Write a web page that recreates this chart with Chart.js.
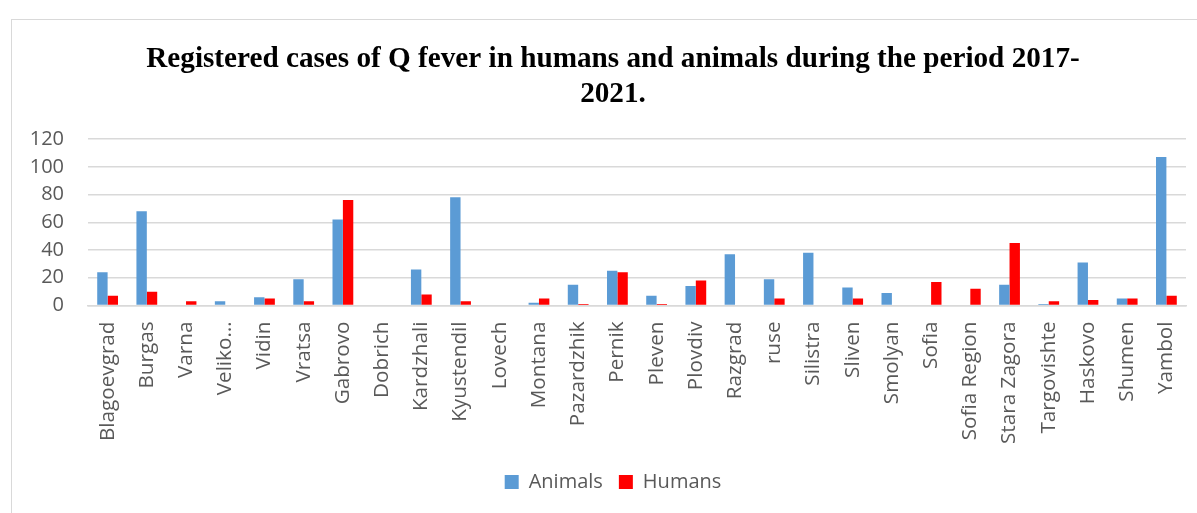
<!DOCTYPE html>
<html>
<head>
<meta charset="utf-8">
<script src="https://cdn.jsdelivr.net/npm/chart.js@4.4.0/dist/chart.umd.min.js"></script>
<style>
  html, body { margin: 0; padding: 0; background: #ffffff; overflow: hidden; width: 1197px; height: 513px; }
  #frame { position: absolute; left: 11px; top: 19px; width: 1202px; height: 520px; border: 1px solid #d9d9d9; }
  #chart { display: block; }
</style>
</head>
<body>
<div id="frame"><canvas id="chart" width="1202" height="493"></canvas></div>
<script>
// Regions of Bulgaria
const regions = [
  'Blagoevgrad', 'Burgas', 'Varna', 'Veliko…', 'Vidin', 'Vratsa', 'Gabrovo', 'Dobrich',
  'Kardzhali', 'Kyustendil', 'Lovech', 'Montana', 'Pazardzhik', 'Pernik', 'Pleven',
  'Plovdiv', 'Razgrad', 'ruse', 'Silistra', 'Sliven', 'Smolyan', 'Sofia', 'Sofia Region',
  'Stara Zagora', 'Targovishte', 'Haskovo', 'Shumen', 'Yambol'
];

// Registered Q fever cases, 2017-2021
const animalCases = [24, 68, 0, 3, 6, 19, 62, 0, 26, 78, 0, 2, 15, 25, 7, 14, 37, 19, 38, 13, 9, 0, 0, 15, 1, 31, 5, 107];
const humanCases  = [7, 10, 3, 0, 5, 3, 76, 0, 8, 3, 0, 5, 1, 24, 1, 18, 0, 5, 0, 5, 0, 17, 12, 45, 3, 4, 5, 7];

const yTicks = [0, 20, 40, 60, 80, 100, 120];

const titleLines = [
  'Registered cases of Q fever in humans and animals during the period 2017-',
  '2021.'
];

const textGrey = '#595959';
const gridGrey = '#d9d9d9';
const labelFont = { family: "'Open Sans', sans-serif", size: 20 };
const categoryFont = { family: "'Open Sans', sans-serif", size: 20.7 };

new Chart(document.getElementById('chart'), {
  type: 'bar',
  data: {
    labels: regions,
    datasets: [
      { label: 'Animals', data: animalCases, backgroundColor: '#5b9bd5', borderWidth: 0,
        categoryPercentage: 0.53, barPercentage: 1.0 },
      { label: 'Humans', data: humanCases, backgroundColor: '#ff0000', borderWidth: 0,
        categoryPercentage: 0.53, barPercentage: 1.0 }
    ]
  },
  options: {
    responsive: false,
    animation: false,
    devicePixelRatio: 1,
    layout: { padding: { left: 0, right: 0, top: 0, bottom: 11 } },
    plugins: {
      title: {
        display: true,
        text: titleLines,
        color: '#000000',
        font: { family: "'Liberation Serif', 'Times New Roman', serif", size: 29.2, weight: 'bold', lineHeight: 1.2 },
        padding: { top: 21.5, bottom: 27.5 }
      },
      legend: {
        display: true,
        position: 'bottom',
        labels: {
          color: textGrey,
          font: labelFont,
          boxWidth: 14,
          boxHeight: 14,
          padding: 16
        }
      },
      tooltip: { enabled: false }
    },
    scales: {
      x: {
        grid: { display: false, drawTicks: false },
        border: { display: true, color: gridGrey, width: 1.5 },
        ticks: {
          color: textGrey,
          font: categoryFont,
          minRotation: 90,
          maxRotation: 90,
          autoSkip: false,
          padding: 16
        },
        afterFit(scale) { scale.height = 150.5; }
      },
      y: {
        min: 0,
        max: 120,
        afterBuildTicks(scale) { scale.ticks = yTicks.map(v => ({ value: v })); },
        grid: { color: gridGrey, lineWidth: 1.5, drawTicks: false },
        border: { display: false },
        ticks: { color: textGrey, font: labelFont, padding: 24 },
        afterFit(scale) { scale.width = 76; }
      },
      yRight: {
        position: 'right',
        display: true,
        grid: { display: false, drawTicks: false },
        border: { display: false },
        ticks: { display: false },
        afterFit(scale) { scale.width = 28; }
      }
    }
  }
});
</script>
</body>
</html>
